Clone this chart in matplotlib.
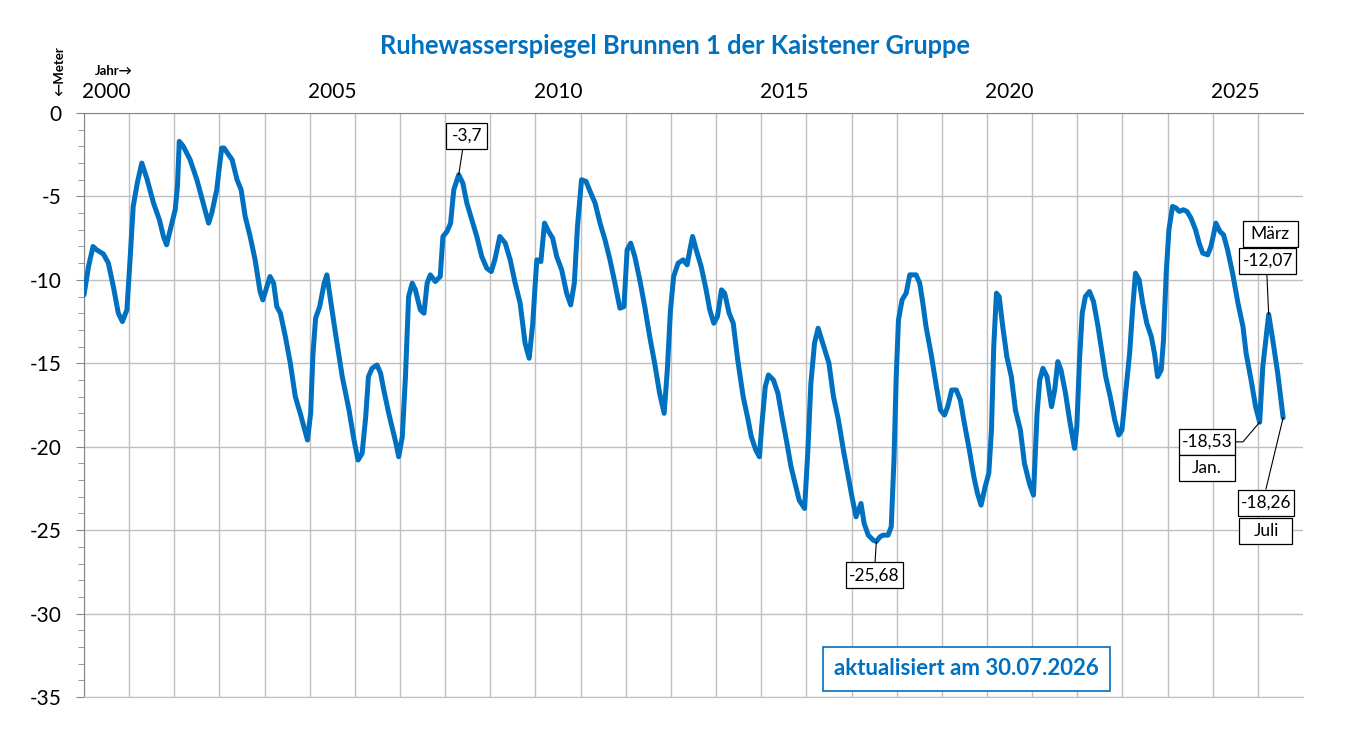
import matplotlib
matplotlib.use("Agg")
import matplotlib.pyplot as plt
from matplotlib.patches import Rectangle
from matplotlib.transforms import ScaledTranslation

# Messwerte (Jahr als Dezimalzahl, Ruhewasserspiegel in Meter)
jahr = [
    2000.00, 2000.10, 2000.20, 2000.28, 2000.43, 2000.54, 2000.65, 2000.76, 2000.85, 2000.95,
    2001.02, 2001.09, 2001.18, 2001.28, 2001.39, 2001.54, 2001.67, 2001.76, 2001.83, 2001.91,
    2002.02, 2002.07, 2002.11, 2002.20, 2002.35, 2002.50, 2002.65, 2002.76, 2002.83, 2002.94,
    2003.00, 2003.05, 2003.10, 2003.28, 2003.39, 2003.48, 2003.57, 2003.68, 2003.79, 2003.90,
    2003.96, 2004.05, 2004.12, 2004.20, 2004.27, 2004.35, 2004.46, 2004.57, 2004.68, 2004.79,
    2004.87, 2004.95,
    2005.02, 2005.07, 2005.13, 2005.22, 2005.32, 2005.38, 2005.46, 2005.57, 2005.72, 2005.87,
    2005.98, 2006.07, 2006.16, 2006.24, 2006.30, 2006.38, 2006.49, 2006.57, 2006.64, 2006.75,
    2006.84, 2006.91, 2006.97, 2007.05, 2007.12, 2007.19, 2007.27, 2007.34, 2007.45, 2007.53,
    2007.60, 2007.67, 2007.78, 2007.89, 2007.95, 2008.04, 2008.12, 2008.19, 2008.30, 2008.39,
    2008.48, 2008.59, 2008.70, 2008.81, 2008.92, 2009.02, 2009.10, 2009.21, 2009.33, 2009.44,
    2009.55, 2009.66, 2009.77, 2009.86, 2009.94,
    2009.99, 2010.03, 2010.12, 2010.20, 2010.29, 2010.38, 2010.47, 2010.58, 2010.69, 2010.78,
    2010.86, 2010.93, 2011.02, 2011.12, 2011.21, 2011.32, 2011.43, 2011.54, 2011.65, 2011.76,
    2011.87, 2011.96, 2012.03, 2012.11, 2012.20, 2012.31, 2012.42, 2012.53, 2012.64, 2012.75,
    2012.85, 2012.92, 2012.99, 2013.06, 2013.16, 2013.27, 2013.36, 2013.42, 2013.48, 2013.56,
    2013.67, 2013.78, 2013.86, 2013.95, 2014.03, 2014.12, 2014.19, 2014.29, 2014.38, 2014.48,
    2014.60, 2014.71, 2014.78, 2014.88, 2014.96,
    2015.01, 2015.09, 2015.16, 2015.27, 2015.37, 2015.46, 2015.57, 2015.66, 2015.75, 2015.84,
    2015.96, 2016.03, 2016.10, 2016.18, 2016.26, 2016.34, 2016.41, 2016.50, 2016.60, 2016.71,
    2016.82, 2016.93, 2017.01, 2017.10, 2017.21, 2017.28, 2017.37, 2017.48, 2017.55, 2017.63,
    2017.70, 2017.81, 2017.88, 2017.94, 2017.99, 2018.04, 2018.12, 2018.21, 2018.29, 2018.43,
    2018.51, 2018.58, 2018.65, 2018.76, 2018.88, 2018.97, 2019.06, 2019.13, 2019.22, 2019.32,
    2019.41, 2019.50, 2019.61, 2019.71, 2019.79, 2019.87, 2019.96,
    2020.04, 2020.10, 2020.15, 2020.21, 2020.27, 2020.35, 2020.44, 2020.54, 2020.63, 2020.74,
    2020.83, 2020.94, 2021.03, 2021.11, 2021.17, 2021.24, 2021.33, 2021.43, 2021.50, 2021.57,
    2021.64, 2021.74, 2021.83, 2021.94, 2021.99, 2022.05, 2022.11, 2022.18, 2022.27, 2022.36,
    2022.46, 2022.55, 2022.63, 2022.73, 2022.83, 2022.92, 2022.99, 2023.07, 2023.16, 2023.23,
    2023.29, 2023.37, 2023.45, 2023.54, 2023.64, 2023.71, 2023.78, 2023.86, 2023.91, 2023.97,
    2024.03, 2024.11, 2024.19, 2024.26, 2024.35, 2024.43, 2024.52, 2024.62, 2024.70, 2024.78,
    2024.89, 2024.96,
    2025.01, 2025.07, 2025.16, 2025.24, 2025.33, 2025.44, 2025.56, 2025.67, 2025.74, 2025.85,
    2025.95, 2026.04, 2026.11, 2026.24, 2026.33, 2026.44, 2026.56,
]
pegel = [
    -10.9, -9.2, -8.0, -8.2, -8.45, -9.0, -10.4, -12.0, -12.5, -11.8,
    -8.8, -5.6, -4.2, -3.0, -3.9, -5.4, -6.4, -7.4, -7.9, -7.0,
    -5.8, -4.4, -1.7, -2.0, -2.8, -4.0, -5.5, -6.6, -6.0, -4.6,
    -3.2, -2.1, -2.1, -2.8, -4.0, -4.6, -6.2, -7.4, -8.8, -10.7,
    -11.2, -10.4, -9.8, -10.2, -11.6, -12.0, -13.4, -15.0, -17.0, -18.0,
    -18.8, -19.6,
    -18.0, -14.5, -12.3, -11.6, -10.2, -9.7, -11.2, -13.2, -15.8, -17.8,
    -19.6, -20.8, -20.4, -18.2, -15.8, -15.3, -15.1, -15.6, -16.6, -18.0,
    -19.0, -19.8, -20.6, -19.4, -15.8, -11.0, -10.2, -10.6, -11.8, -12.0,
    -10.2, -9.7, -10.1, -9.8, -7.4, -7.1, -6.6, -4.6, -3.7, -4.2,
    -5.4, -6.4, -7.4, -8.6, -9.3, -9.5, -8.8, -7.4, -7.8, -8.8,
    -10.2, -11.4, -13.8, -14.7, -12.6,
    -10.4, -8.8, -8.9, -6.6, -7.1, -7.5, -8.6, -9.4, -10.8, -11.5,
    -10.2, -6.8, -4.0, -4.1, -4.7, -5.4, -6.6, -7.6, -8.8, -10.2,
    -11.7, -11.6, -8.2, -7.8, -8.6, -10.0, -11.6, -13.4, -15.0, -16.8,
    -18.0, -15.4, -11.8, -9.8, -9.0, -8.8, -9.1, -8.2, -7.4, -8.2,
    -9.2, -10.6, -11.8, -12.6, -12.2, -10.6, -10.8, -12.0, -12.6, -14.8,
    -17.0, -18.4, -19.4, -20.2, -20.6,
    -18.8, -16.4, -15.7, -16.0, -16.8, -18.2, -19.8, -21.2, -22.2, -23.2,
    -23.7, -20.4, -16.2, -13.8, -12.9, -13.6, -14.2, -15.0, -17.0, -18.4,
    -20.2, -21.8, -23.0, -24.2, -23.4, -24.6, -25.3, -25.6, -25.68, -25.4,
    -25.3, -25.3, -24.8, -20.8, -15.8, -12.4, -11.2, -10.8, -9.7, -9.7,
    -10.2, -11.4, -12.8, -14.4, -16.4, -17.8, -18.1, -17.6, -16.6, -16.6,
    -17.2, -18.6, -20.2, -21.8, -22.8, -23.5, -22.4,
    -21.6, -19.0, -14.0, -10.8, -11.0, -12.8, -14.6, -15.8, -17.8, -19.0,
    -21.0, -22.2, -22.9, -18.0, -16.0, -15.3, -15.8, -17.6, -16.6, -14.9,
    -15.4, -16.8, -18.4, -20.1, -18.8, -14.8, -12.0, -11.0, -10.7, -11.3,
    -12.8, -14.4, -15.8, -17.0, -18.4, -19.3, -19.0, -16.8, -14.4, -11.6,
    -9.6, -10.0, -11.4, -12.6, -13.4, -14.4, -15.8, -15.4, -13.6, -9.6,
    -7.0, -5.6, -5.7, -5.9, -5.8, -5.9, -6.3, -7.0, -7.8, -8.4,
    -8.5, -8.0,
    -7.4, -6.6, -7.1, -7.3, -8.2, -9.6, -11.4, -12.8, -14.4, -16.0,
    -17.6, -18.53, -15.2, -12.07, -13.6, -15.6, -18.26,
]

# beschriftete Punkte
mark_jahr = [2008.30, 2017.55, 2026.04, 2026.24, 2026.56]
mark_wert = [-3.7, -25.68, -18.53, -12.07, -18.26]
mark_text = ["-3,7", "-25,68", "-18,53", "-12,07", "-18,26"]
mark_monat = ["", "", "Jan.", "März", "Juli"]

jahr_labels = [2000, 2005, 2010, 2015, 2020, 2025]
y_ticks = [0, -5, -10, -15, -20, -25, -30, -35]

BLAU = "#0070C0"
GRID = "#BFBFBF"
ACHSE = "#868686"
FONT = ["Lato", "DejaVu Sans"]

plt.rcParams["font.family"] = FONT
plt.rcParams["axes.unicode_minus"] = False

fig = plt.figure(figsize=(13.5, 7.44), dpi=100)
ax = fig.add_axes([84 / 1350, 1 - 697 / 744, (1303 - 84) / 1350, (697 - 113) / 744])

ax.plot(jahr, pegel, color=BLAU, lw=3.6, solid_joinstyle="round",
        solid_capstyle="round", zorder=3)

ax.set_xlim(2000, 2027)
ax.set_ylim(-35, 0)

# x: Beschriftung oben in der Jahresmitte, Gitter an Jahresgrenzen
ax.xaxis.tick_top()
ax.set_xticks([j + 0.5 for j in jahr_labels])
ax.set_xticklabels([str(j) for j in jahr_labels], fontsize=15)
ax.set_xticks(range(2000, 2027), minor=True)
ax.tick_params(axis="x", which="both", length=0, pad=8)
ax.grid(which="minor", axis="x", color=GRID, lw=1)

ax.set_yticks(y_ticks)
ax.set_yticklabels([str(v) for v in y_ticks], fontsize=15)
ax.set_yticks(range(-35, 1), minor=True)
ax.tick_params(axis="y", which="major", length=6, color=ACHSE, pad=10)
ax.tick_params(axis="y", which="minor", length=4.3, color=ACHSE)
ax.grid(which="major", axis="y", color=GRID, lw=1)
ax.set_axisbelow(True)

ax.spines["right"].set_visible(False)
ax.spines["left"].set_color(ACHSE)
ax.spines["top"].set_color(ACHSE)
ax.spines["bottom"].set_color(GRID)

fig.text(0.5, 0.938, "Ruhewasserspiegel Brunnen 1 der Kaistener Gruppe",
         ha="center", va="center", fontsize=18.4, fontweight="bold", color=BLAU)
fig.text(0.0844, 0.9046, "Jahr→", ha="center", va="center", fontsize=9.5,
         fontweight="bold")
fig.text(0.0437, 0.9046, "←Meter", ha="center", va="center", fontsize=9.5,
         fontweight="bold", rotation=90)


def box(xd, yd, text, w=0.56, h=0.265):
    trans = fig.dpi_scale_trans + ScaledTranslation(xd, yd, ax.transData)
    ax.add_patch(Rectangle((-w / 2, -h / 2), w, h, transform=trans, fc="white",
                           ec="black", lw=0.9, zorder=5, clip_on=False))
    ax.text(xd, yd, text, ha="center", va="center", fontsize=12.5, zorder=6)


def leader(pts):
    xs, ys = zip(*pts)
    ax.plot(xs, ys, color="black", lw=0.8, zorder=4, clip_on=False)


# -3,7 (2008)
box(2008.48, -1.38, mark_text[0], w=0.41)
leader([(2008.39, -2.12), (mark_jahr[0], mark_wert[0])])
# -25,68 (2017)
box(2017.50, -27.7, mark_text[1], w=0.57)
leader([(2017.52, -26.96), (mark_jahr[1], mark_wert[1])])
# Jan.
box(2024.87, -19.71, mark_text[2])
box(2024.87, -21.27, mark_monat[2])
leader([(2025.49, -19.71), (2025.67, -19.71), (mark_jahr[2], mark_wert[2])])
# März
box(2026.27, -7.25, mark_monat[3], w=0.55)
box(2026.22, -8.87, mark_text[3], w=0.57)
leader([(2026.20, -9.70), (mark_jahr[3], mark_wert[3])])
# Juli
box(2026.18, -23.37, mark_text[4])
box(2026.18, -25.04, mark_monat[4], w=0.53)
leader([(2026.18, -22.53), (mark_jahr[4], mark_wert[4])])

ax.text(0.7236, 0.048, "aktualisiert am 30.07.2026", transform=ax.transAxes,
        ha="center", va="center", fontsize=16, fontweight="bold", color=BLAU,
        zorder=6, bbox=dict(boxstyle="square,pad=0.5", fc="white", ec=BLAU, lw=1.2))

fig.savefig("out.png", dpi=100)
